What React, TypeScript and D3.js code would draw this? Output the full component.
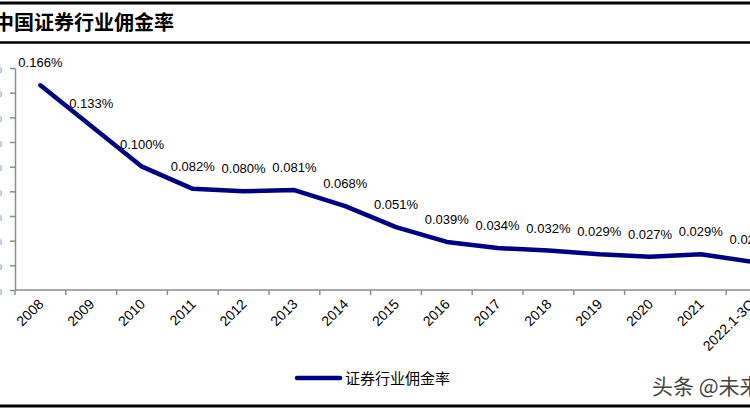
import { useEffect, useRef } from 'react';
import * as d3 from 'd3';

const categories = ['2008', '2009', '2010', '2011', '2012', '2013', '2014', '2015', '2016', '2017', '2018', '2019', '2020', '2021', '2022.1-3Q'];
const rates = [0.166, 0.133, 0.1, 0.082, 0.08, 0.081, 0.068, 0.051, 0.039, 0.034, 0.032, 0.029, 0.027, 0.029, 0.023];
const yTicks = [0, 0.02, 0.04, 0.06, 0.08, 0.1, 0.12, 0.14, 0.16, 0.18];

const title = '中国证券行业佣金率';
const seriesName = '证券行业佣金率';
const watermark = '头条 @未来智库';

export default function App() {
  const svgRef = useRef<SVGSVGElement>(null);

  useEffect(() => {
    if (!svgRef.current) return;
    const svg = d3.select(svgRef.current);
    svg.selectAll('*').remove();

    const W = 750;
    const H = 410;
    const latin = 'Arial, "Liberation Sans", sans-serif';
    const cjk = '"Noto Sans CJK SC", sans-serif';

    svg.append('rect').attr('width', W).attr('height', H).attr('fill', '#fff');

    // Frame lines
    svg.append('line').attr('x1', 0).attr('x2', W).attr('y1', 3).attr('y2', 3)
      .attr('stroke', '#000').attr('stroke-width', 3);
    svg.append('line').attr('x1', 0).attr('x2', W).attr('y1', 42.5).attr('y2', 42.5)
      .attr('stroke', '#000').attr('stroke-width', 2.5);
    svg.append('line').attr('x1', 0).attr('x2', W).attr('y1', 406).attr('y2', 406)
      .attr('stroke', '#000').attr('stroke-width', 3);

    // Title
    svg.append('text')
      .attr('x', -6).attr('y', 30)
      .attr('font-family', cjk).attr('font-weight', 'bold').attr('font-size', 20)
      .attr('fill', '#000')
      .text(title);

    // Scales
    const x = d3.scaleBand<string>()
      .domain(categories)
      .range([15, 15 + 50.8 * categories.length]);
    const y = d3.scaleLinear().domain([0, 0.18]).range([290, 68]);
    const cx = (c: string) => (x(c) || 0) + x.bandwidth() / 2;

    // Y axis
    const yAxis = svg.append('g')
      .attr('transform', 'translate(15,0)')
      .call(d3.axisLeft(y).tickValues(yTicks).tickSize(5).tickSizeOuter(0)
        .tickFormat(d => `${(+d).toFixed(2)}%`));
    yAxis.select('.domain').attr('stroke', '#8c8c8c').attr('stroke-width', 1.5);
    yAxis.selectAll('.tick line').attr('stroke', '#8c8c8c').attr('stroke-width', 1.5);
    yAxis.selectAll('.tick text')
      .attr('x', -13).attr('fill', '#4aa8f0')
      .attr('font-family', latin).attr('font-size', 13);

    // X axis
    const xAxis = svg.append('g')
      .attr('transform', 'translate(0,290)');
    xAxis.append('line')
      .attr('x1', 15).attr('x2', W).attr('y1', 0).attr('y2', 0)
      .attr('stroke', '#8c8c8c').attr('stroke-width', 1.5);
    xAxis.selectAll('line.tick')
      .data(categories)
      .join('line')
      .attr('class', 'tick')
      .attr('x1', d => x(d) || 0).attr('x2', d => x(d) || 0)
      .attr('y1', 0).attr('y2', 5)
      .attr('stroke', '#8c8c8c').attr('stroke-width', 1.5);
    xAxis.selectAll('text')
      .data(categories)
      .join('text')
      .attr('text-anchor', 'end')
      .attr('font-family', latin).attr('font-size', 14).attr('fill', '#000')
      .attr('transform', d => `translate(${cx(d) + 4},${15}) rotate(-45)`)
      .text(d => d);

    // Line
    const pts = categories.map((c, i) => ({ c, v: rates[i] }));
    const line = d3.line<{ c: string; v: number }>()
      .x(d => cx(d.c))
      .y(d => y(d.v));
    svg.append('path')
      .datum(pts)
      .attr('d', line)
      .attr('fill', 'none')
      .attr('stroke', '#000080')
      .attr('stroke-width', 4.5)
      .attr('stroke-linejoin', 'round')
      .attr('stroke-linecap', 'round');

    // Data labels
    svg.selectAll('text.lbl')
      .data(pts)
      .join('text')
      .attr('class', 'lbl')
      .attr('x', d => cx(d.c))
      .attr('y', d => y(d.v) - 18)
      .attr('text-anchor', 'middle')
      .attr('font-family', latin).attr('font-size', 13).attr('fill', '#000')
      .text(d => `${d.v.toFixed(3)}%`);

    // Legend
    svg.append('line')
      .attr('x1', 297).attr('x2', 340).attr('y1', 378).attr('y2', 378)
      .attr('stroke', '#000080').attr('stroke-width', 4.5).attr('stroke-linecap', 'round');
    svg.append('text')
      .attr('x', 345).attr('y', 383.5)
      .attr('font-family', cjk).attr('font-size', 15).attr('fill', '#000')
      .text(seriesName);

    // Watermark
    svg.append('text')
      .attr('x', 652).attr('y', 394)
      .attr('font-family', cjk).attr('font-size', 21).attr('fill', '#444')
      .text(watermark);
  }, []);

  return (
    <svg
      ref={svgRef}
      width={750}
      height={410}
      style={{ position: 'fixed', left: 0, top: 0, display: 'block' }}
    />
  );
}
